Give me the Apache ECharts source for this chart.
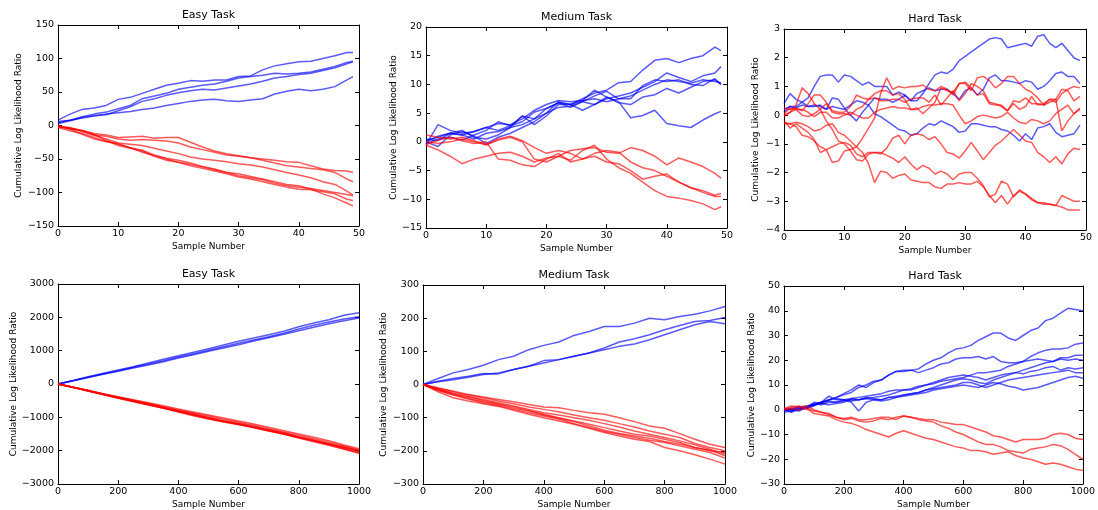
<!DOCTYPE html>
<html>
<head>
<meta charset="utf-8">
<script src="https://cdn.jsdelivr.net/npm/echarts@6/dist/echarts.min.js"></script>
<style>
  html, body { margin: 0; padding: 0; background: #fff; }
  #main { width: 1098px; height: 510px; }
</style>
</head>
<body>
<div id="main"></div>
<script>
// sample positions
const xsShort = [0,2,4,6,8,10,12,14,16,18,20,22,24,26,28,30,32,34,36,38,40,42,44,46,48,49];
const xsEvery = [0,1,2,3,4,5,6,7,8,9,10,11,12,13,14,15,16,17,18,19,20,21,22,23,24,25,26,27,28,29,
  30,31,32,33,34,35,36,37,38,39,40,41,42,43,44,45,46,47,48,49];
const xsLong = [0,50,100,150,200,250,300,350,400,450,500,550,600,650,700,750,800,850,900,950,1000];
const xsLongFine = [0,25,50,75,100,125,150,175,200,225,250,275,300,325,350,375,400,425,450,475,
  500,525,550,575,600,625,650,675,700,725,750,775,800,825,850,875,900,925,950,975,1000];

// Easy task, 50 samples
const easyShortBlue = [
  [8,17,24,26,30,39,42,48,54,60,63,67,66,68,68,73,74,83,89,92,95,96,100,104,109,109],
  [6,8,13,17,20,25,30,40,44,48,54,57,60,62,66,71,73,75,78,77,78,80,84,88,94,96],
  [3,7,12,15,16,22,28,36,40,45,49,52,54,53,56,59,62,66,71,73,76,78,82,86,92,95],
  [4,8,11,14,17,19,21,24,26,30,33,36,38,39,37,36,38,40,47,51,54,52,54,58,68,73]
];
const easyShortRed = [
  [-2,-4,-7,-12,-14,-18,-17,-16,-19,-18,-18,-25,-32,-38,-42,-45,-48,-50,-52,-54,-55,-60,-65,-67,-68,-70],
  [-1,-3,-8,-14,-16,-20,-22,-21,-22,-23,-26,-32,-36,-40,-44,-46,-48,-52,-56,-60,-62,-64,-66,-70,-80,-84],
  [-1,-4,-9,-15,-20,-26,-28,-30,-34,-38,-42,-47,-50,-52,-54,-57,-59,-62,-66,-70,-74,-78,-84,-88,-98,-104],
  [-2,-5,-8,-13,-22,-30,-34,-38,-46,-52,-55,-58,-62,-66,-70,-75,-78,-81,-86,-90,-92,-94,-97,-100,-103,-105],
  [0,-6,-13,-20,-24,-27,-33,-40,-45,-50,-55,-60,-64,-68,-72,-77,-80,-84,-88,-92,-95,-96,-99,-102,-110,-112],
  [-3,-8,-12,-18,-24,-28,-33,-37,-44,-49,-52,-56,-61,-65,-70,-72,-76,-80,-84,-88,-90,-95,-102,-108,-116,-120]
];

// Medium task, 50 samples
const mediumShortBlue = [
  [0.3,0.8,1.5,1.2,1.8,2.5,2.0,2.8,3.5,5.2,5.8,6.8,6.5,7.5,8.5,9.0,10.3,10.5,12.5,14.2,14.5,13.8,14.5,15.0,16.5,15.9],
  [0,-0.8,1.2,1.8,1.0,-0.3,0.8,1.5,2.5,3.5,5.0,6.0,6.2,7.0,6.5,7.5,8.0,8.5,9.5,10.5,12.0,11.2,10.5,11.5,12.0,13.1],
  [-0.5,3.0,2.0,1.5,1.8,2.5,3.2,3.0,4.0,5.5,6.5,7.2,7.0,7.2,7.5,7.0,7.5,8.0,9.0,10.0,10.8,10.5,10.2,10.8,10.5,10.3],
  [0.5,0.2,1.5,1.2,0.5,1.5,1.8,2.5,3.0,4.0,5.8,6.8,6.0,7.0,8.0,8.8,7.5,7.5,9.8,10.8,10.5,10.8,10.0,9.8,11.0,10.0],
  [-0.3,0.5,0.8,0.3,1.2,2.0,3.5,2.8,4.5,3.0,4.5,6.5,6.5,5.5,6.5,7.8,6.8,6.5,7.8,8.2,9.3,8.5,9.5,10.5,10.8,10.0],
  [0,1.0,1.5,2.0,0.8,0.5,1.2,2.5,4.5,4.0,5.0,7.0,6.5,7.2,9.0,7.8,7.0,4.2,4.6,5.5,3.2,2.8,2.5,3.8,4.9,5.3]
];
const mediumShortRed = [
  [-0.6,-1.4,-2.5,-3.8,-3.0,-2.5,-2.0,-1.8,-2.5,-3.5,-2.8,-2.5,-1.5,-1.2,-1.0,-1.8,-2.0,-1.0,-1.5,-2.5,-4.0,-2.8,-3.5,-4.3,-5.5,-6.3],
  [1.2,0.8,0.5,0.8,0.2,-0.5,0.5,1.0,0.2,-1.0,-2.0,-1.5,-2.0,-3.0,-2.0,-1.5,-1.8,-3.5,-4.5,-5.0,-6.0,-7.0,-8.0,-8.5,-9.3,-9.0],
  [-0.5,0.3,0.8,0.2,-0.3,0.0,-3.0,-3.2,-4.0,-4.3,-3.0,-2.0,-3.5,-3.0,-2.5,-3.5,-3.8,-5.0,-6.5,-6.0,-5.6,-7.0,-8.0,-8.8,-9.5,-9.5],
  [0.0,-0.3,0.0,0.5,0.0,-0.5,0.3,0.8,0.0,-3.0,-3.5,-2.5,-3.2,-1.5,-0.6,-3.0,-4.5,-5.5,-7.0,-8.5,-9.5,-9.8,-10.2,-10.8,-11.8,-11.3]
];

// Hard task, 50 samples
const hardShortBlue = [
  [0.4,0.75,0.55,0.45,0.3,0.35,0.3,0.2,0.6,0.55, 0.25,0.0,-0.2,0.1,0.35,0.6,0.55,0.55,0.45,0.55,
   0.7,0.5,0.5,0.75,1.1,1.4,1.5,1.45,1.6,1.9, 2.05,2.2,2.35,2.5,2.65,2.7,2.65,2.35,2.4,2.45,
   2.5,2.4,2.75,2.8,2.5,2.35,2.5,2.25,2.0,1.9],
  [0.2,0.3,0.3,0.45,0.6,1.0,1.35,1.4,1.4,1.15, 1.4,1.35,1.2,1.05,1.15,1.0,1.0,1.0,0.7,0.8,
   0.7,0.5,0.75,0.85,0.95,0.85,0.9,0.9,0.75,0.55, 0.85,0.95,0.7,0.9,1.3,1.4,1.2,1.2,1.15,1.1,
   1.2,1.15,0.9,1.0,1.2,1.45,1.5,1.35,1.35,1.1],
  [0.1,0.3,0.25,0.35,0.3,0.3,0.35,0.2,0.3,0.25, 0.2,0.35,0.5,0.45,0.35,0.05,-0.05,-0.2,-0.35,-0.5,
   -0.55,-0.7,-0.65,-0.45,-0.3,-0.35,-0.2,-0.3,-0.4,-0.6, -0.55,-0.3,-0.3,-0.35,-0.4,-0.4,-0.5,-0.55,-0.7,-0.9,
   -0.65,-0.85,-0.45,-0.4,-0.3,-0.6,-0.75,-0.7,-0.65,-0.35]
];
const hardShortRed = [
  [0.25,0.2,0.25,0.15,0.4,0.7,0.7,0.45,0.1,0.05, 0.05,0.0,0.2,0.3,0.55,0.75,0.85,0.85,0.7,0.75,
   0.55,0.2,0.25,0.05,0.25,0.45,0.95,0.85,0.8,1.1, 1.15,0.95,0.7,0.75,0.4,0.35,0.35,0.15,0.5,0.45,
   0.6,0.4,0.4,0.35,0.55,0.45,0.75,0.9,1.0,0.95],
  [0.05,0.25,0.2,0.0,-0.05,0.05,0.2,0.4,0.15,0.1, 0.1,0.3,0.7,0.6,0.55,0.6,0.5,0.5,0.55,0.55,
   0.45,0.55,0.6,0.6,0.45,0.7,0.35,0.6,0.85,0.5, 0.75,1.1,1.0,0.85,0.45,0.4,0.3,0.15,0.4,0.2,
   0.3,0.65,0.35,0.4,0.55,0.55,0.9,0.85,0.5,0.65],
  [-0.2,-0.45,-0.3,-0.45,-0.6,-0.85,-1.3,-1.2,-1.65,-1.6, -1.25,-1.2,-1.1,-0.8,-0.45,-0.1,0.75,1.3,0.9,1.0,
   0.95,1.0,1.0,1.05,0.9,0.85,1.0,0.9,0.7,1.1, 1.1,0.85,1.3,1.35,1.2,0.95,1.1,1.35,1.35,1.1,
   0.9,0.8,0.6,0.35,0.45,0.55,-0.55,-0.2,0.05,0.2],
  [-0.05,0.1,0.2,0.2,0.1,-0.05,0.1,0.1,-0.1,-0.1, 0.0,0.1,0.0,-0.1,-0.1,0.1,0.2,0.25,0.3,0.25,
   0.25,0.2,0.2,0.3,0.35,0.35,0.4,0.4,0.35,0.0, -0.3,-0.2,-0.05,0.0,-0.05,-0.1,-0.05,0.1,-0.1,-0.25,
   -0.3,-0.15,-0.2,-0.3,-0.2,0.05,0.2,0.35,0.05,0.25],
  [0.0,0.1,0.35,0.95,0.75,0.4,0.2,-0.2,-0.5,-0.9, -1.0,-1.25,-1.55,-1.6,-1.35,-1.3,-1.35,-1.15,-0.8,-0.7,
   -1.0,-0.7,-0.65,-0.7,-0.85,-0.75,-1.0,-1.3,-1.35,-1.5, -1.25,-0.95,-1.25,-1.55,-1.3,-1.05,-0.9,-0.7,-0.5,-0.7,
   -0.9,-0.95,-1.3,-1.45,-1.65,-1.45,-1.7,-1.35,-1.15,-1.2],
  [-0.3,-0.3,-0.25,-0.3,-0.4,-0.55,-0.5,-0.35,-0.3,-0.6, -0.7,-0.9,-1.1,-1.3,-1.7,-2.35,-1.95,-2.0,-2.2,-2.1,
   -2.05,-2.25,-2.3,-2.35,-2.35,-2.5,-2.55,-2.4,-2.4,-2.35, -2.4,-2.4,-2.3,-2.5,-2.8,-3.05,-2.8,-3.1,-2.8,-2.65,
   -2.75,-2.95,-3.05,-3.05,-3.1,-3.15,-3.2,-3.3,-3.3,-3.3],
  [-0.25,-0.3,-0.4,-0.7,-0.75,-0.9,-1.1,-1.2,-1.1,-1.0, -0.95,-1.05,-1.35,-1.45,-1.3,-1.3,-1.3,-1.4,-1.5,-1.65,
   -1.45,-1.7,-1.9,-1.75,-1.85,-2.05,-1.95,-2.05,-2.25,-2.05, -2.0,-2.0,-2.2,-2.45,-2.85,-2.75,-2.3,-2.4,-2.85,-2.6,
   -2.75,-2.9,-3.05,-3.1,-3.1,-3.15,-2.8,-2.9,-3.0,-3.0]
];

// Easy task, 1000 samples
const easyLongBlue = [
  [0,105,215,320,420,520,630,740,850,950,1060,1170,1280,1380,1480,1580,1720,1830,1930,2060,2140],
  [0,100,200,300,400,500,600,700,810,910,1010,1120,1220,1320,1420,1520,1650,1760,1860,1950,2020],
  [0,95,195,290,380,480,570,670,780,880,980,1080,1180,1290,1390,1490,1600,1700,1810,1900,1980]
];
const easyLongRed = [
  [0,-95,-190,-290,-380,-470,-560,-650,-750,-840,-930,-1020,-1110,-1200,-1300,-1400,-1500,-1600,-1700,-1830,-1940],
  [0,-100,-200,-300,-400,-490,-580,-680,-780,-870,-960,-1060,-1150,-1240,-1340,-1440,-1540,-1640,-1750,-1860,-1980],
  [0,-100,-205,-310,-410,-510,-600,-700,-800,-900,-1000,-1100,-1180,-1270,-1370,-1460,-1580,-1690,-1790,-1900,-2010],
  [0,-105,-210,-315,-420,-520,-620,-720,-820,-920,-1030,-1120,-1200,-1290,-1380,-1480,-1600,-1700,-1810,-1920,-2040],
  [0,-100,-210,-320,-425,-530,-630,-730,-840,-950,-1050,-1140,-1220,-1310,-1410,-1510,-1620,-1730,-1840,-1960,-2080],
  [0,-95,-195,-300,-400,-500,-610,-710,-810,-910,-1010,-1110,-1200,-1300,-1400,-1490,-1590,-1690,-1790,-1890,-1990],
  [0,-100,-205,-305,-410,-515,-615,-720,-830,-940,-1040,-1130,-1210,-1300,-1400,-1500,-1610,-1710,-1820,-1940,-2060]
];

// Medium task, 1000 samples
const mediumLongBlue = [
  [0,18,35,45,58,75,85,105,118,128,148,160,175,175,185,200,195,205,212,222,235],
  [0,10,18,25,33,32,45,55,72,75,85,95,110,128,138,150,165,178,190,193,202],
  [0,8,14,22,30,35,45,55,65,75,85,95,105,115,122,135,150,165,180,190,183]
];
const mediumLongRed = [
  [0,-10,-20,-30,-38,-45,-52,-60,-68,-70,-78,-85,-90,-100,-112,-125,-132,-148,-165,-180,-190],
  [0,-12,-22,-32,-40,-50,-58,-68,-75,-82,-92,-100,-108,-118,-128,-140,-150,-160,-178,-190,-200],
  [0,-14,-26,-36,-45,-55,-65,-75,-85,-92,-100,-108,-118,-128,-140,-150,-160,-170,-182,-195,-210],
  [0,-15,-28,-38,-48,-58,-68,-78,-90,-100,-110,-120,-130,-140,-150,-155,-165,-175,-190,-200,-205],
  [0,-16,-30,-42,-52,-60,-72,-80,-92,-102,-112,-125,-138,-148,-155,-162,-172,-180,-190,-198,-215],
  [0,-18,-32,-44,-55,-64,-75,-85,-95,-105,-118,-130,-142,-150,-160,-168,-175,-185,-195,-205,-222],
  [0,-22,-40,-50,-58,-66,-78,-90,-100,-110,-120,-132,-145,-155,-165,-172,-190,-200,-212,-225,-240]
];

// Hard task, 1000 samples
const hardLongBlue = [
  [0,0.5,1,0.5,2,3,4,5,6.5,8, 10,9,11,12,14,15.5,16,16,16.5,18.5, 20,21,23,24.5,25,26,28,29.5,31,31,
   29,28,30,32,33,36,37,39,41,40.5, 40],
  [0,0.5,0,1,2.5,2,3,3,3.5,4, 4,4.5,5,5.5,6,7,8,8.5,9.5,10, 10.5,11.5,12,12.5,13,14,15,15,15.5,16,
   17.5,18.5,19.5,21.5,23,24,24.5,24.5,25,26.5, 27],
  [0,-0.5,0.5,1,3,2.5,4,5,6,7, 9,10,11.5,12,14,15.5,15.5,16,15,16, 17,18.5,19,20.5,21,21,21.5,20.5,21.5,19.5,
   19,19,19.5,20,20.5,20,19.5,21,21,22, 22],
  [-1,-0.5,0,0.5,1.5,3,5.5,4,4,3, -0.5,3,4,4,5,5,6,6.5,7,8, 9,10,11,12,12.5,12,11,10.5,12,13,
   14,15,16,17,18,19,19.5,20.5,20,20.5, 20],
  [0,-1,0.5,1,2,2.5,2,2.5,3,4.5, 5,5.5,6,6.5,7.5,8,8,8,9,10, 11,12,13,13.5,14,13.5,13,12,13,14,
   14.5,15,14.5,15.5,16,17,17.5,16,17,16.5, 17],
  [0,0,-0.5,1,2,3,4,4.5,4,3.5, 4,5,4.5,4,5,5.5,6,6.5,7,8, 8.5,9,9.5,10,11,11,10,9,10,11,
   12,12.5,13,13.5,14,14.5,15,15.5,16,15, 15],
  [0.5,0,1,1.5,2,3,3.5,3,4,4.5, 4,4.5,4,3.5,4,5,5.5,6,6.5,7, 8,8.5,9,9.5,10,9.5,9,10,11,10.5,
   9.5,9,8,8.5,9,10,11,12,13,13.5, 12.7]
];
const hardLongRed = [
  [0,1,1.5,0.5,-0.5,-1,-1.5,-3,-3.5,-3, -4,-4,-3.5,-3,-3,-4,-2.5,-3,-3.5,-4, -4,-5,-5.5,-6,-6,-7,-8,-9,-10.5,-11,
   -12,-13,-12,-12,-12,-11.5,-10,-9.5,-10,-11.5, -12],
  [0.5,1.5,1,1.5,0,-1,-2,-3,-4,-3.5, -4.5,-5,-4.5,-3.5,-4,-3,-2.5,-3,-4,-4.5, -5,-6.5,-7.5,-9,-10,-11.5,-13,-14,-14,-15,
   -16.5,-17,-17.5,-16,-15.5,-15,-14,-14.5,-16,-18, -20],
  [0,0.5,0,0.5,-1.5,-2,-2.5,-4,-5,-5.5, -6.5,-8,-9,-10,-11,-9.5,-8.5,-9.5,-10.5,-11.5, -12,-13,-14,-15,-15.5,-16.5,-16.5,-17,-18,-17.5,
   -17,-18.5,-19.5,-20,-21,-22,-21.5,-22,-23,-24, -24.5]
];

const panels = [
  { title: 'Easy Task', left: 58, top: 25, width: 301, height: 201, x: [0, 50, 10], y: [-150, 150, 50],
    xs: xsShort, blue: easyShortBlue, red: easyShortRed, nameGap: 35 },
  { title: 'Medium Task', left: 426, top: 27, width: 301, height: 201, x: [0, 50, 10], y: [-15, 20, 5],
    xs: xsShort, blue: mediumShortBlue, red: mediumShortRed, nameGap: 28 },
  { title: 'Hard Task', left: 784, top: 29, width: 302, height: 201, x: [0, 50, 10], y: [-4, 3, 1],
    xs: xsEvery, blue: hardShortBlue, red: hardShortRed, nameGap: 24 },
  { title: 'Easy Task', left: 58, top: 284, width: 301, height: 200, x: [0, 1000, 200], y: [-3000, 3000, 1000],
    xs: xsLong, blue: easyLongBlue, red: easyLongRed, nameGap: 40 },
  { title: 'Medium Task', left: 423, top: 285, width: 302, height: 200, x: [0, 1000, 200], y: [-300, 300, 100],
    xs: xsLong, blue: mediumLongBlue, red: mediumLongRed, nameGap: 35 },
  { title: 'Hard Task', left: 784, top: 286, width: 302, height: 200, x: [0, 1000, 200], y: [-30, 50, 10],
    xs: xsLongFine, blue: hardLongBlue, red: hardLongRed, nameGap: 24 }
];

const FONT = 'DejaVu Sans';
const minus = v => (v < 0 ? '\u2212' + Math.abs(v) : String(v));

let grid = [], xAxis = [], yAxis = [], title = [], series = [];

panels.forEach((p, i) => {
  grid.push({ left: p.left, top: p.top, width: p.width, height: p.height });
  title.push({
    text: p.title, left: p.left + p.width / 2, top: p.top - 15, textAlign: 'center', padding: 0,
    textStyle: { fontFamily: FONT, fontSize: 11, fontWeight: 'normal', color: '#000' }
  });
  const common = {
    gridIndex: i, type: 'value',
    axisLine: { show: true, onZero: false, lineStyle: { color: '#000', width: 1 } },
    axisTick: { show: true, inside: true, length: 4, lineStyle: { color: '#000' } },
    splitLine: { show: false }
  };
  xAxis.push(Object.assign({}, common, {
    position: 'bottom', min: p.x[0], max: p.x[1], interval: p.x[2],
    name: 'Sample Number', nameLocation: 'middle', nameGap: 16,
    nameTextStyle: { fontFamily: FONT, fontSize: 9, color: '#000' },
    axisLabel: { margin: 3, fontFamily: FONT, fontSize: 9.5, color: '#000', formatter: minus }
  }));
  xAxis.push(Object.assign({}, common, {
    position: 'top', min: p.x[0], max: p.x[1], interval: p.x[2], axisLabel: { show: false }
  }));
  yAxis.push(Object.assign({}, common, {
    position: 'left', min: p.y[0], max: p.y[1], interval: p.y[2],
    name: 'Cumulative Log Likelihood Ratio', nameLocation: 'middle', nameGap: p.nameGap, nameRotate: 90,
    nameTextStyle: { fontFamily: FONT, fontSize: 9, color: '#000' },
    axisLabel: { margin: 4, fontFamily: FONT, fontSize: 9.5, color: '#000', formatter: minus }
  }));
  yAxis.push(Object.assign({}, common, {
    position: 'right', min: p.y[0], max: p.y[1], interval: p.y[2], axisLabel: { show: false }
  }));

  const addLines = (list, color) => {
    list.forEach(vals => {
      series.push({
        type: 'line', xAxisIndex: 2 * i, yAxisIndex: 2 * i,
        data: vals.map((v, k) => [p.xs[k], v]),
        showSymbol: false, silent: true,
        lineStyle: { color: color, width: 1.5, opacity: 0.65 }
      });
    });
  };
  addLines(p.blue, '#0000ff');
  addLines(p.red, '#ff0000');
});

const chart = echarts.init(document.getElementById('main'));
chart.setOption({
  backgroundColor: '#fff',
  animation: false,
  title: title,
  grid: grid,
  xAxis: xAxis,
  yAxis: yAxis,
  series: series
});
</script>
</body>
</html>
